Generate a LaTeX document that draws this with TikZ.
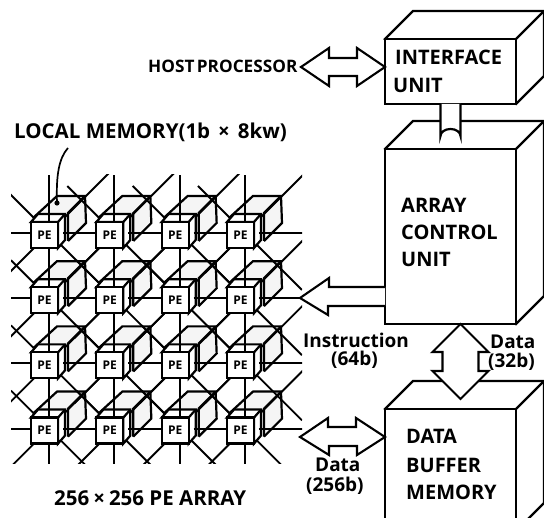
\documentclass[tikz,border=0pt]{standalone}
\usepackage{fontspec}
\setmainfont{Open Sans}
\usetikzlibrary{calc}
\tikzset{
  x=1pt,y=-1pt,
  edge/.style={line width=2.2pt,line join=miter},
  face/.style={draw,edge,fill=white},
  block/.style={draw,edge,fill=white,inner sep=0pt,outer sep=0pt},
  fat/.style={line width=2.1pt,fill=white,line join=miter},
  mesh/.style={line width=1.9pt},
  lbl/.style={font=\fontsize{20}{22}\selectfont\bfseries,anchor=west,inner sep=0pt},
  small/.style={lbl,font=\fontsize{19}{20}\selectfont\bfseries},
  hostlbl/.style={lbl,font=\fontsize{17.2}{20}\selectfont\bfseries},
  pelbl/.style={font=\fontsize{12}{12}\selectfont\bfseries,inner sep=0pt},
  speck/.style={fill=black!4},
}
\newcommand{\cube}[5]{% name, center x, center y, w, h: draws a front node with its depth faces
  \path[face] ($(#2,#3)+(-#4/2,-#5/2)$) -- ++(28,-28) -- ++(#4,0) -- ++(0,#5) -- ++(-28,28) -- cycle;
  \node[block,minimum width=#4,minimum height=#5] (#1) at (#2,#3) {};
  \draw[edge] (#1.north east) -- ++(28,-28);
}
\begin{document}
\begin{tikzpicture}
\clip (0,0) rectangle (544,518);
\fill[white] (0,0) rectangle (544,518);
% --- blocks
\cube{iface}{450.5}{71.5}{131}{65}
\cube{acu}{450.5}{236.5}{131}{175}
\cube{dbm}{450.5}{470}{131}{122}
% link between interface and control
\coordinate (linktop) at (iface.south);
\draw[face] ($(linktop)+(-10,0)$) -- ++(0,32) arc[start angle=180,end angle=360,x radius=10,y radius=7] -- ++(0,-32);
% --- PE array
\foreach \r in {0,1,2,3}{
  \foreach \c in {0,1,2,3}{
    \coordinate (m\r\c) at ({49+65.33*\c},{233+65.2*\r});
  }
}
% local memories
\foreach \r in {0,1,2,3}{
  \foreach \c in {0,1,2,3}{
    \path[speck] ($(m\r\c)+(8,-37)$) -- ($(m\r\c)+(36,-37)$) -- ($(m\r\c)+(37,-10)$) -- ($(m\r\c)+(19,8)$) -- ($(m\r\c)+(-16,-15)$) -- cycle;
    \draw[edge] ($(m\r\c)+(-16,-15)$) -- ($(m\r\c)+(8,-37)$) -- ($(m\r\c)+(36,-37)$) -- ($(m\r\c)+(37,-10)$) -- ($(m\r\c)+(19,8)$);
    \draw[edge] ($(m\r\c)+(36,-37)$) -- ($(m\r\c)+(19,-20)$) -- ($(m\r\c)+(19,8)$);
  }
}
% mesh
\begin{scope}
\clip (11,175) rectangle (302,464);
\foreach \r in {0,1,2,3}{
  \foreach \c in {0,1,2,3}{
    \draw[mesh] (m\r\c) -- +(66,0) (m\r\c) -- +(-40,0);
    \draw[mesh] (m\r\c) -- +(0,66) (m\r\c) -- +(0,-58);
    \draw[mesh] (m\r\c) -- +(57,57);
    \draw[mesh] (m\r\c) -- +(60,-60);
    \draw[mesh] (m\r\c) -- +(-40,40);
    \ifnum\r=0 \draw[mesh] (m\r\c) -- +(-47,-47);
    \else \draw[mesh] (m\r\c) -- +(-38,-38); \fi
  }
}
\end{scope}
% PE cubes
\foreach \r in {0,1,2,3}{
  \foreach \c in {0,1,2,3}{
    \path[face] ($(m\r\c)+(9,15)$) -- ++(7,-8) -- ++(0,-26) -- ++(-27,0) -- ++(-7,8) -- ($(m\r\c)+(9,-11)$) -- cycle;
    \draw[mesh] ($(m\r\c)+(0,-19)$) -- ($(m\r\c)+(0,-11)$);
    \draw[mesh] ($(m\r\c)+(14,0)$) -- ($(m\r\c)+(22,0)$);
    \node[block,minimum width=27,minimum height=26,pelbl] (pe\r\c) at ($(m\r\c)+(-4.5,2)$) {PE};
    \draw[edge] (pe\r\c.north east) -- ++(7,-8);
  }
}
% pointer to local memory
\node[lbl,font=\fontsize{20.5}{22}\selectfont\bfseries] (lmem) at (14,132) {LOCAL MEMORY(1b\hspace{8pt}×\hspace{8pt}8kw)};
\coordinate (lmdot) at (57,203);
\draw[line width=1.7pt] (68,148) .. controls (59,158) and (56,175) .. (lmdot);
\fill (lmdot) circle[radius=2.6];
% --- text
\node[hostlbl] (host) at (148,66) {HOST\hspace{-2pt} PROCESSOR};
\node[lbl] at (395,57) {INTERFACE};
\node[lbl] at (393,85) {UNIT};
\node[lbl] at (401,205) {ARRAY};
\node[lbl] at (401,232) {CONTROL};
\node[lbl] at (401,259) {UNIT};
\node[lbl] at (406,436) {DATA};
\node[lbl] at (406,465) {BUFFER};
\node[lbl] at (406,492) {MEMORY};
\node[small] (instr) at (303,340) {Instruction};
\node[small] at (331,360) {(64b)};
\node[small] (d256) at (315,465) {Data};
\node[small] at (306,486) {(256b)};
\node[lbl,font=\fontsize{20.5}{22}\selectfont\bfseries] (arr) at (54,498) {256\hspace{4pt}×\hspace{4pt}256 PE ARRAY};
% --- fat arrows
\coordinate (hosttip) at (301,67);
\draw[fat] (hosttip) -- ++(28,-19) -- ++(0,10) -- ++(28,0) -- ++(0,-10) -- (hosttip -| iface.west) -- ++(-28,19) -- ++(0,-10) -- ++(-28,0) -- ++(0,10) -- cycle;
\coordinate (instip) at (300,298);
\draw[fat] (acu.west |- 0,287) -- ++(-56,0) -- ++(0,-9) -- (instip) -- ++(28,17) -- ++(0,-9) -- (acu.west |- 0,306);
\coordinate (dl) at (300,437);
\draw[fat] (dl) -- ++(28,-19) -- ++(0,9) -- ++(28,0) -- ++(0,-9) -- (dl -| dbm.west) -- ++(-28,18) -- ++(0,-9) -- ++(-28,0) -- ++(0,9) -- cycle;
\coordinate (vt) at ([xshift=10]acu.south);
\draw[fat] (vt) -- ++(-28,28) -- ++(10,0) -- ++(0,19) -- ++(-10,0) -- ($(vt)+(0,75)$) -- ++(28,-28) -- ++(-10,0) -- ++(0,-19) -- ++(10,0) -- cycle;
\node[small] at (490,342) {Data};
\node[small] at (488,362) {(32b)};
\end{tikzpicture}
\end{document}
